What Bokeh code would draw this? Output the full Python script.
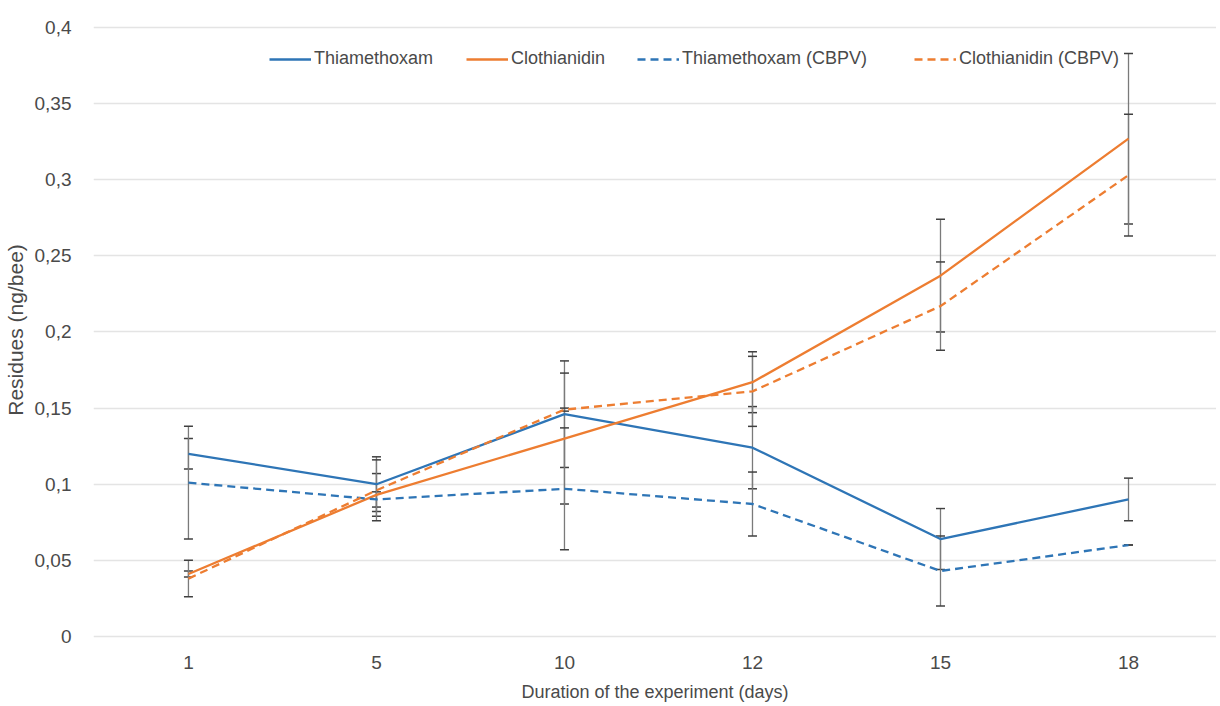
from bokeh.plotting import figure
from bokeh.models import (Range1d, FixedTicker, Whisker, TeeHead, ColumnDataSource,
                          Legend, LegendItem)
from bokeh.embed import file_html
from bokeh.resources import INLINE

# ---- data ----
days = ["1", "5", "10", "12", "15", "18"]
thiamethoxam = [0.120, 0.100, 0.146, 0.124, 0.064, 0.090]
clothianidin = [0.041, 0.093, 0.130, 0.167, 0.237, 0.327]
thiamethoxam_cbpv = [0.101, 0.090, 0.097, 0.087, 0.043, 0.060]
clothianidin_cbpv = [0.038, 0.096, 0.149, 0.161, 0.217, 0.303]

thiamethoxam_err = [0.010, 0.018, 0.035, 0.027, 0.020, 0.014]
clothianidin_err = [0.002, 0.014, 0.043, 0.020, 0.037, 0.056]
thiamethoxam_cbpv_err = [0.037, 0.005, 0.040, 0.021, 0.023, 0.000]
clothianidin_cbpv_err = [0.012, 0.020, 0.001, 0.023, 0.029, 0.040]

y_ticks = [0, 0.05, 0.1, 0.15, 0.2, 0.25, 0.3, 0.35, 0.4]
y_tick_labels = ["0", "0,05", "0,1", "0,15", "0,2", "0,25", "0,3", "0,35", "0,4"]

BLUE = "#2E75B6"
ORANGE = "#ED7D31"
FONT = "Liberation Sans"
TXT = "#4a4a4a"

x = list(range(len(days)))

p = figure(width=1216, height=704, output_backend="svg", toolbar_location=None,
           x_range=Range1d(-0.505, 5.468), y_range=Range1d(-0.002, 0.4046),
           min_border_left=84, min_border_right=0, min_border_top=20,
           min_border_bottom=63)
p.outline_line_color = None
p.background_fill_color = "white"
p.xgrid.visible = False
p.ygrid.grid_line_color = "#e4e4e4"
p.ygrid.grid_line_width = 1.3

for ax in (p.xaxis[0], p.yaxis[0]):
    ax.axis_line_color = None
    ax.major_tick_line_color = None
    ax.minor_tick_line_color = None
    ax.major_label_text_font = FONT
    ax.major_label_text_font_size = "19px"
    ax.major_label_text_color = TXT
    ax.axis_label_text_font = FONT
    ax.axis_label_text_font_size = "18px"
    ax.axis_label_text_font_style = "normal"
    ax.axis_label_text_color = TXT

p.yaxis.ticker = FixedTicker(ticks=y_ticks)
p.yaxis.major_label_overrides = dict(zip(y_ticks, y_tick_labels))
p.yaxis.major_label_standoff = 16
p.yaxis.axis_label = "Residues (ng/bee)"
p.yaxis.axis_label_text_font_size = "21px"
p.yaxis.axis_label_standoff = 5

p.xaxis.ticker = FixedTicker(ticks=x)
p.xaxis.major_label_overrides = dict(zip(x, days))
p.xaxis.major_label_standoff = 10
p.xaxis.axis_label = "Duration of the experiment (days)"
p.xaxis.axis_label_standoff = 10

series = [
    ("Thiamethoxam", thiamethoxam, thiamethoxam_err, BLUE, "solid"),
    ("Clothianidin", clothianidin, clothianidin_err, ORANGE, "solid"),
    ("Thiamethoxam (CBPV)", thiamethoxam_cbpv, thiamethoxam_cbpv_err, BLUE, "8 5"),
    ("Clothianidin (CBPV)", clothianidin_cbpv, clothianidin_cbpv_err, ORANGE, "8 5"),
]

renderers = []
for name, vals, errs, col, dash in series:
    r = p.line(x, vals, line_color=col, line_width=2.3, line_dash=dash)
    renderers.append((name, r))

for name, vals, errs, col, dash in series:
    src = ColumnDataSource(dict(
        base=x,
        upper=[v + e for v, e in zip(vals, errs)],
        lower=[v - e for v, e in zip(vals, errs)],
    ))
    w = Whisker(source=src, base="base", upper="upper", lower="lower",
                line_color="#7a7a7a", line_width=1.3,
                upper_head=TeeHead(size=9, line_color="#404040", line_width=1.5),
                lower_head=TeeHead(size=9, line_color="#404040", line_width=1.5))
    p.add_layout(w)

legend_x = [176, 373, 544, 821]
for (name, r), lx in zip(renderers, legend_x):
    lg = Legend(items=[LegendItem(label=name, renderers=[r])],
                location=(lx, 570), orientation="horizontal",
                padding=0, margin=0, spacing=0,
                glyph_width=42, glyph_height=20, label_standoff=3,
                border_line_color=None, background_fill_alpha=0,
                label_text_font=FONT, label_text_font_size="18px",
                label_text_color=TXT)
    p.add_layout(lg)

open("out.html", "w").write(file_html(p, INLINE))
